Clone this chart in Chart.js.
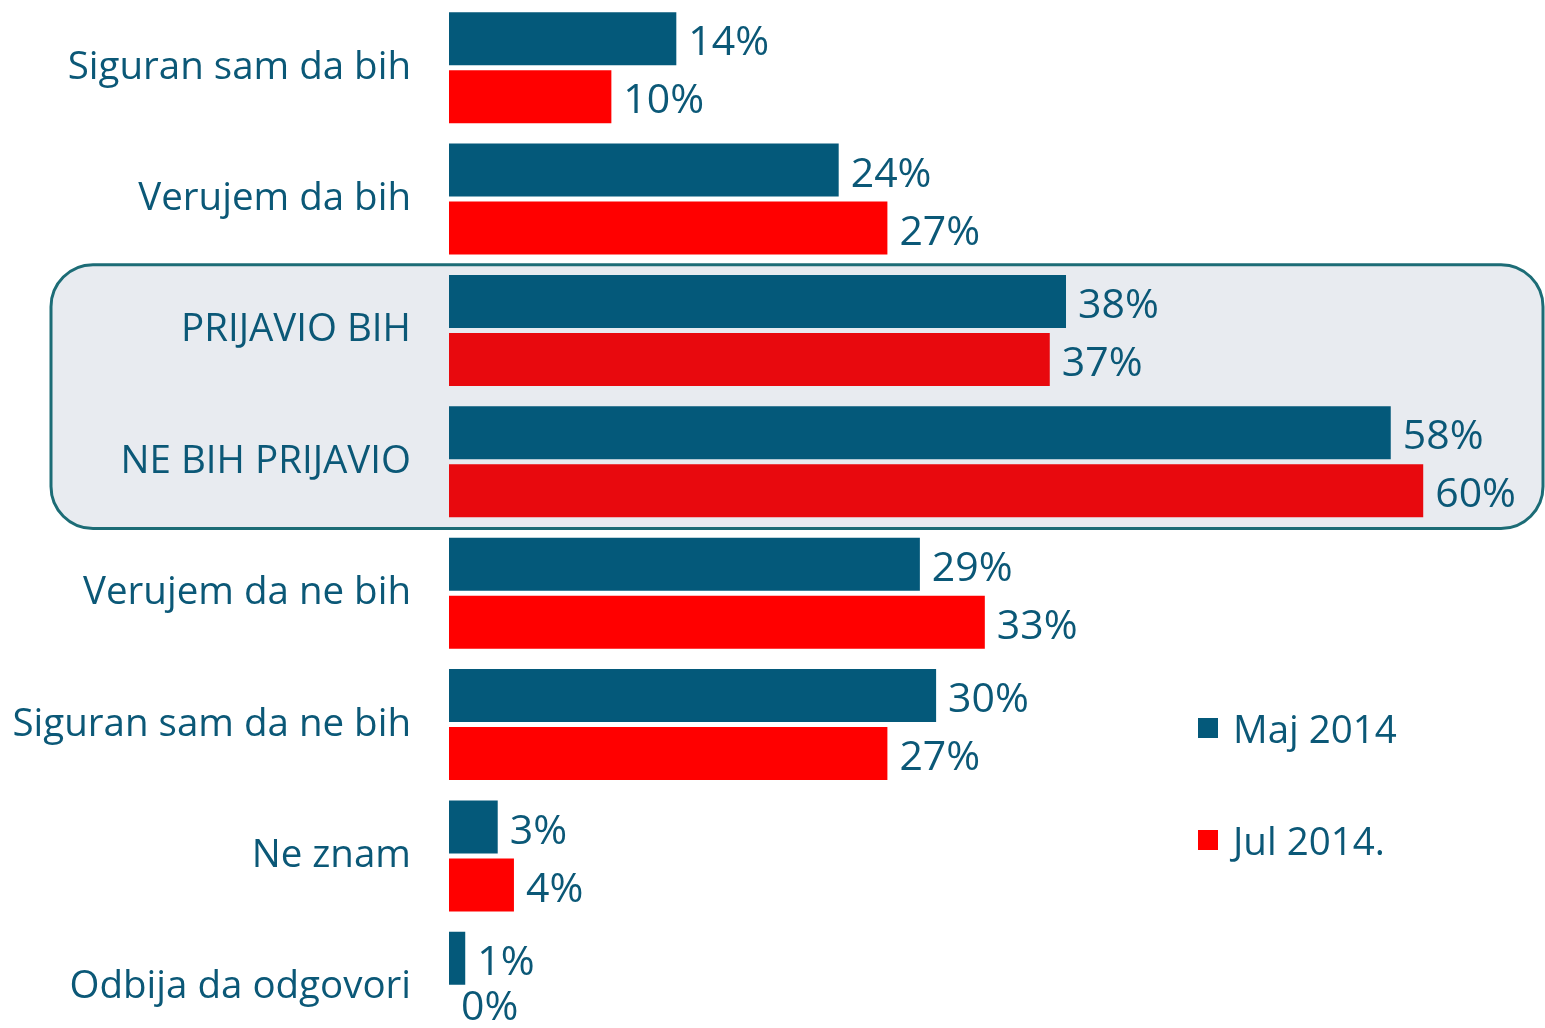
<!DOCTYPE html>
<html lang="sr">
<head>
<meta charset="UTF-8">
<title>Prijavio bih</title>
<script src="https://cdn.jsdelivr.net/npm/chart.js"></script>
<style>
  html, body { margin: 0; padding: 0; background: #fff; overflow: hidden; }
  #wrap { position: relative; width: 1545px; height: 1053px; }
  #chart { display: block; }
  .legend { position: absolute; left: 1198px; font-family: "Open Sans", sans-serif; font-size: 38.5px; color: #0B5877; display: flex; align-items: center; line-height: 52px; }
  .legend span.box { display: inline-block; width: 20px; height: 20px; margin-right: 15px; }
</style>
</head>
<body>
<div id="wrap">
  <canvas id="chart" width="1545" height="1053"></canvas>
  <div class="legend" style="top: 702px;"><span class="box" style="background:#04597A"></span>Maj 2014</div>
  <div class="legend" style="top: 814px;"><span class="box" style="background:#FF0000"></span>Jul 2014.</div>
</div>
<script>
// data
const categories = ['Siguran sam da bih', 'Verujem da bih', 'PRIJAVIO BIH', 'NE BIH PRIJAVIO',
  'Verujem da ne bih', 'Siguran sam da ne bih', 'Ne znam', 'Odbija da odgovori'];
const maj2014 = [14, 24, 38, 58, 29, 30, 3, 1];
const jul2014 = [10, 27, 37, 60, 33, 27, 4, 0];
const highlighted = [2, 3];

const textColor = '#0B5877';
const blue = '#04597A';
const red = '#FF0000';
const redInBox = '#E8090E';

// grey rounded box behind the two summary rows (drawn before the axis labels)
const boxPlugin = {
  id: 'highlightBox',
  beforeDraw(chart) {
    const y = chart.scales.y;
    const band = y.getPixelForValue(1) - y.getPixelForValue(0);
    const top = y.getPixelForValue(highlighted[0]) - band / 2;
    const bottom = y.getPixelForValue(highlighted[highlighted.length - 1]) + band / 2 + 1;
    const left = 51, right = 1543;
    const ctx = chart.ctx;
    ctx.save();
    ctx.beginPath();
    ctx.roundRect(left, top, right - left, bottom - top, 42);
    ctx.fillStyle = '#E8EBF0';
    ctx.fill();
    ctx.lineWidth = 3;
    ctx.strokeStyle = '#1C6C76';
    ctx.stroke();
    ctx.restore();
  }
};

// percentage labels at the bar ends (kept inside the visible page)
const valueLabels = {
  id: 'valueLabels',
  afterDatasetsDraw(chart) {
    const ctx = chart.ctx;
    ctx.save();
    ctx.font = '41px "Open Sans"';
    ctx.fillStyle = textColor;
    ctx.textAlign = 'left';
    ctx.textBaseline = 'middle';
    chart.data.datasets.forEach((ds, i) => {
      chart.getDatasetMeta(i).data.forEach((bar, j) => {
        ctx.fillText(ds.data[j] + '%', bar.x + 12, Math.min(bar.y + 5, 1008));
      });
    });
    ctx.restore();
  }
};

new Chart(document.getElementById('chart'), {
  type: 'bar',
  data: {
    labels: categories,
    datasets: [{
      label: 'Maj 2014',
      data: maj2014,
      backgroundColor: blue
    }, {
      label: 'Jul 2014.',
      data: jul2014,
      backgroundColor: categories.map((c, i) => highlighted.includes(i) ? redInBox : red)
    }]
  },
  options: {
    indexAxis: 'y',
    responsive: false,
    animation: false,
    categoryPercentage: 0.883,
    barPercentage: 0.914,
    layout: { padding: { top: 2, right: 0, bottom: 0, left: 0 } },
    plugins: {
      legend: { display: false },
      tooltip: { enabled: false }
    },
    scales: {
      x: { display: false, min: 0, max: 67.5 },
      y: {
        grid: { display: false, drawTicks: false },
        border: { display: false },
        ticks: {
          color: textColor,
          padding: 38,
          autoSkip: false,
          font: { family: '"Open Sans"', size: 38.5 }
        },
        afterFit(scale) {
          scale.width = 449;
          scale.paddingTop = 0;
          scale.paddingBottom = 0;
        }
      }
    }
  },
  plugins: [boxPlugin, valueLabels]
});
</script>
</body>
</html>
